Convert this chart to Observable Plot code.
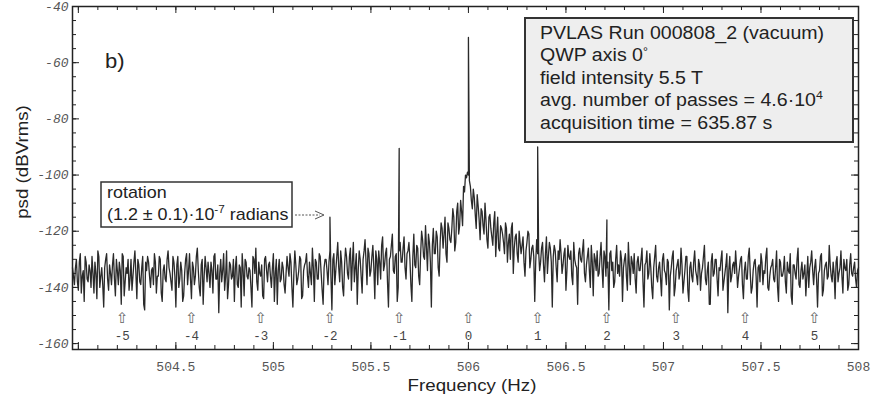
<!DOCTYPE html>
<html><head><meta charset="utf-8">
<script src="https://cdn.jsdelivr.net/npm/d3@7"></script>
<script src="https://cdn.jsdelivr.net/npm/@observablehq/plot@0.6"></script>
<style>body{margin:0;background:#fff} svg{display:block}</style>
</head><body><div id="chart"></div>
<script>
// ---- data ----
const f0 = 503.97, df = 0.01; // frequency bins of the noise trace (Hz)
// psd at bins f0 + i*df
const noise = [
-133,-139,-130,-141,-128,-136,-145,-131,-138,-134,
-129,-142,-135,-127,-140,-133,-147,-130,-137,-132,
-139,-128,-143,-134,-131,-146,-129,-138,-135,-141,
-130,-136,-127,-144,-132,-139,-129,-148,-134,-131,
-140,-133,-128,-142,-136,-130,-145,-132,-138,-127,
-135,-141,-131,-147,-129,-137,-134,-143,-130,-139,
-128,-144,-133,-136,-126,-140,-132,-146,-129,-138,
-135,-131,-142,-128,-137,-149,-130,-134,-141,-127,
-139,-132,-136,-145,-129,-140,-133,-128,-143,-131,
-137,-134,-147,-130,-126,-141,-135,-132,-144,-129,
-138,-131,-140,-128,-135,-146,-130,-137,-133,-142,
-129,-136,-131,-147,-127,-139,-134,-130,-143,-132,
-128,-140,-135,-126,-145,-131,-137,-129,-141,-133,
-130,-139,-127,-148,-128,-134,-124,-138,-131,-143,
-126,-135,-129,-141,-124,-133,-146,-127,-136,-130,
-123,-139,-128,-134,-125,-144,-130,-127,-137,-122,
-132,-126,-147,-129,-121,-135,-128,-140,-124,-131,
-122,-137,-127,-130,-145,-121,-133,-126,-139,-120,
-129,-118,-134,-124,-147,-119,-128,-122,-136,-117,
-126,-115,-131,-119,-124,-112,-127,-113,-121,-109,
-118,-106,-101,-100,-104,-112,-108,-119,-111,-123,
-113,-121,-116,-126,-114,-122,-117,-129,-115,-127,
-119,-124,-117,-131,-121,-119,-135,-122,-128,-120,
-128,-122,-136,-124,-121,-130,-125,-145,-123,-127,
-131,-124,-138,-122,-129,-126,-147,-125,-133,-127,
-123,-135,-128,-141,-125,-130,-136,-124,-132,-146,
-126,-131,-123,-138,-129,-134,-125,-143,-130,-127,
-135,-124,-140,-129,-133,-148,-127,-131,-138,-125,
-132,-127,-145,-130,-136,-124,-139,-131,-128,-142,
-129,-134,-126,-147,-131,-137,-128,-140,-133,-125,
-138,-131,-143,-128,-135,-130,-148,-133,-127,-140,
-132,-137,-126,-142,-134,-129,-145,-131,-138,-127,
-136,-130,-141,-133,-125,-139,-131,-146,-128,-135,
-130,-143,-134,-127,-138,-132,-149,-129,-136,-131,
-127,-140,-133,-129,-144,-131,-137,-126,-142,-134,
-130,-147,-132,-128,-139,-135,-126,-141,-133,-130,
-138,-127,-145,-131,-136,-129,-142,-134,-128,-146,
-132,-137,-126,-140,-131,-135,-143,-129,-133,-127,
-139,-130,-147,-134,-128,-141,-132,-137,-125,-136,
-131,-144,-129,-135,-127,-142,-133,-130,-139,-128,
-136,-131,-140,-133
];
// psd at the half bins f0 + df/2 + i*df
const noiseMid = [
-136,-133,-138,-131,-142,-134,-129,-137,-132,-140,
-135,-131,-144,-129,-136,-139,-133,-128,-141,-135,
-132,-137,-130,-139,-134,-128,-143,-133,-130,-137,
-141,-131,-135,-130,-138,-133,-146,-131,-129,-136,
-134,-139,-131,-136,-129,-142,-134,-137,-130,-133,
-138,-129,-136,-132,-140,-131,-145,-135,-128,-134,
-137,-131,-139,-129,-134,-143,-130,-136,-133,-131,
-140,-134,-129,-137,-132,-135,-138,-128,-136,-144,
-131,-137,-130,-133,-139,-132,-147,-134,-130,-136,
-133,-140,-129,-135,-138,-131,-136,-143,-130,-134,
-132,-136,-133,-145,-130,-134,-138,-131,-139,-135,
-133,-128,-140,-135,-132,-137,-129,-144,-134,-131,
-136,-131,-139,-133,-130,-137,-128,-135,-146,-130,
-134,-131,-136,-130,-139,-129,-133,-127,-140,-132,
-129,-137,-126,-131,-138,-128,-134,-130,-142,-127,
-131,-126,-136,-129,-133,-127,-139,-131,-125,-134,
-128,-138,-130,-125,-134,-129,-145,-127,-131,-126,
-133,-128,-124,-139,-129,-132,-125,-136,-128,-123,
-130,-126,-121,-131,-125,-128,-120,-133,-124,-119,
-121,-128,-117,-123,-119,-115,-124,-110,-118,-113,
-104,-100,-99,-102,-109,-105,-114,-107,-116,-112,
-118,-110,-123,-115,-119,-125,-113,-121,-126,-118,
-121,-128,-119,-124,-130,-117,-126,-121,-131,-124,
-125,-131,-127,-120,-133,-126,-129,-131,-128,-134,
-126,-132,-128,-135,-124,-131,-129,-127,-138,-130,
-128,-132,-126,-134,-129,-127,-139,-130,-133,-128,
-130,-127,-135,-132,-126,-140,-131,-128,-134,-136,
-129,-133,-127,-136,-131,-128,-134,-140,-130,-135,
-136,-130,-133,-128,-141,-132,-129,-135,-137,-131,
-134,-130,-138,-132,-127,-135,-133,-144,-129,-136,
-133,-137,-130,-134,-139,-131,-136,-129,-143,-134,
-130,-135,-132,-138,-129,-141,-133,-136,-131,-134,
-139,-132,-135,-129,-137,-134,-146,-131,-136,-130,
-137,-133,-130,-141,-135,-128,-134,-138,-132,-135,
-133,-136,-130,-139,-134,-137,-129,-135,-140,-131,
-136,-133,-138,-131,-134,-129,-140,-136,-132,-137,
-133,-140,-130,-136,-134,-138,-131,-135,-143,-132,
-135,-130,-139,-134,-137,-132,-136,-140,-131,-134,
-133,-137,-135,-129,-143,-134,-131,-136,-132,-138,
-135,-131,-138,-133,-136,-130,-134,-141,-132,-135,
-133,-137,-134
];
const peakF = [505.29, 505.645, 506.0, 506.355, 506.71];
const peakV = [-115, -90.5, -51, -90, -116];
const harmonicF = [504.225, 504.58, 504.935, 505.29, 505.645, 506.0, 506.355, 506.71, 507.065, 507.42, 507.775];
const harmonicLabels = ["-5","-4","-3","-2","-1","0","1","2","3","4","5"];
const xTickLabels = [504.5, 505, 505.5, 506, 506.5, 507, 507.5, 508];
const yTickLabels = [-160, -140, -120, -100, -80, -60, -40];
const legendLines = ["PVLAS Run 000808_2 (vacuum)", "QWP axis 0", "field intensity 5.5 T", "avg. number of passes = 4.6·10", "acquisition time = 635.87 s"];

// ---- layout ----
const W = 878, H = 404, mL = 72, mR = 20, mT = 6, mB = 55;
const pw = W - mL - mR, ph = H - mT - mB;
const xMajor = d3.range(504, 508.001, 0.5);
const xMinor = d3.range(504, 508.001, 0.1);
const yMajor = d3.range(-160, -39, 20);
const yMinor = d3.range(-160, -39, 5);

const pts = noise.map((v, i) => ({f: f0 + i * df, v}));
noiseMid.forEach((v, i) => pts.push({f: f0 + df / 2 + i * df, v}));
peakF.forEach((f, j) => pts.push({f, v: peakV[j]}));
pts.sort((a, b) => a.f - b.f);

const mono = "'Liberation Mono', 'DejaVu Sans Mono', monospace";
const tick = "#222";

const svg = Plot.plot({
  width: W, height: H,
  marginLeft: mL, marginRight: mR, marginTop: mT, marginBottom: mB,
  x: {domain: [503.97, 508], axis: null},
  y: {domain: [-162.1, -40], axis: null},
  style: {background: "#fff", fontFamily: "'Liberation Sans', Arial, sans-serif"},
  marks: [
    Plot.line(pts, {x: "f", y: "v", stroke: "#2a2a2a", strokeWidth: 1.3}),
    // inward ticks on all four sides
    Plot.ruleX(xMajor, {x: d => d, insetTop: ph - 7, stroke: tick}),
    Plot.ruleX(xMinor, {x: d => d, insetTop: ph - 4, stroke: tick}),
    Plot.ruleX(xMajor, {x: d => d, insetBottom: ph - 7, stroke: tick}),
    Plot.ruleX(xMinor, {x: d => d, insetBottom: ph - 4, stroke: tick}),
    Plot.ruleY(yMajor, {y: d => d, insetRight: pw - 7, stroke: tick}),
    Plot.ruleY(yMinor, {y: d => d, insetRight: pw - 4, stroke: tick}),
    Plot.ruleY(yMajor, {y: d => d, insetLeft: pw - 7, stroke: tick}),
    Plot.ruleY(yMinor, {y: d => d, insetLeft: pw - 4, stroke: tick}),
    Plot.frame({stroke: "#222", strokeWidth: 1.5}),
    // tick labels
    Plot.text(xTickLabels, {x: d => d, frameAnchor: "bottom", dy: 21, text: d => String(d), fontFamily: mono, fontSize: 13, fill: "#555"}),
    Plot.text(yTickLabels, {y: d => d, frameAnchor: "left", dx: -4, textAnchor: "end", text: d => String(d), fontFamily: mono, fontSize: 13, fontStyle: "italic", fill: "#555"}),
    // harmonic markers
    Plot.text(harmonicF, {x: d => d, y: -150.8, text: () => "⇧", fontFamily: "'DejaVu Sans'", fontSize: 15, fill: "#666"}),
    Plot.text(harmonicF, {x: d => d, y: -157.4, text: (d, i) => harmonicLabels[i], fontFamily: mono, fontSize: 12.5, fill: "#444"})
  ]
});

const s = d3.select(svg);
const sans = "'Liberation Sans', Arial, sans-serif";

// axis titles
s.append("text").attr("transform", "translate(472,391) scale(1.1,1)").attr("text-anchor", "middle")
  .attr("font-family", sans).attr("font-size", 17).attr("fill", "#222").text("Frequency (Hz)");
s.append("text").attr("transform", "translate(28,162) rotate(-90) scale(1.1,1)").attr("text-anchor", "middle")
  .attr("font-family", sans).attr("font-size", 17).attr("fill", "#222").text("psd (dBVrms)");

// panel letter
s.append("text").attr("transform", "translate(105,68) scale(1.1,1)").attr("text-anchor", "start")
  .attr("font-family", sans).attr("font-size", 20).attr("fill", "#222").text("b)");

// info box
s.append("rect").attr("x", 525).attr("y", 18).attr("width", 328).attr("height", 124)
  .attr("fill", "#eeeeee").attr("stroke", "#333").attr("stroke-width", 2);
const lg = s.append("g").attr("transform", "translate(540,0) scale(1.12,1)").attr("text-anchor", "start")
  .attr("font-family", sans).attr("font-size", 17.5).attr("fill", "#222");
legendLines.forEach((t, i) => {
  const tx = lg.append("text").attr("x", 0).attr("y", 39 + i * 22.5).text(t);
  if (i === 1) tx.append("tspan").attr("font-size", 11).attr("dy", -6).text("°");
  if (i === 3) tx.append("tspan").attr("font-size", 11).attr("dy", -7).text("4");
});

// rotation annotation
s.append("rect").attr("x", 101).attr("y", 182).attr("width", 191).attr("height", 45)
  .attr("fill", "#fff").attr("stroke", "#333").attr("stroke-width", 1.5);
const ag = s.append("g").attr("transform", "translate(107,0) scale(1.12,1)").attr("text-anchor", "start")
  .attr("font-family", sans).attr("font-size", 16).attr("fill", "#222");
ag.append("text").attr("x", 0).attr("y", 198).text("rotation");
const t2 = ag.append("text").attr("x", 0).attr("y", 220).text("(1.2 ± 0.1)·10");
t2.append("tspan").attr("font-size", 10.5).attr("dy", -7).text("-7");
t2.append("tspan").attr("dy", 7).text(" radians");
// dotted pointer to the rotation line
s.append("line").attr("x1", 295).attr("y1", 215).attr("x2", 320).attr("y2", 215)
  .attr("stroke", "#555").attr("stroke-width", 1).attr("stroke-dasharray", "2,1.5");
s.append("path").attr("d", "M315,211 L324,215 L315,219").attr("fill", "none").attr("stroke", "#555").attr("stroke-width", 1);

document.getElementById("chart").appendChild(svg);
</script></body></html>
